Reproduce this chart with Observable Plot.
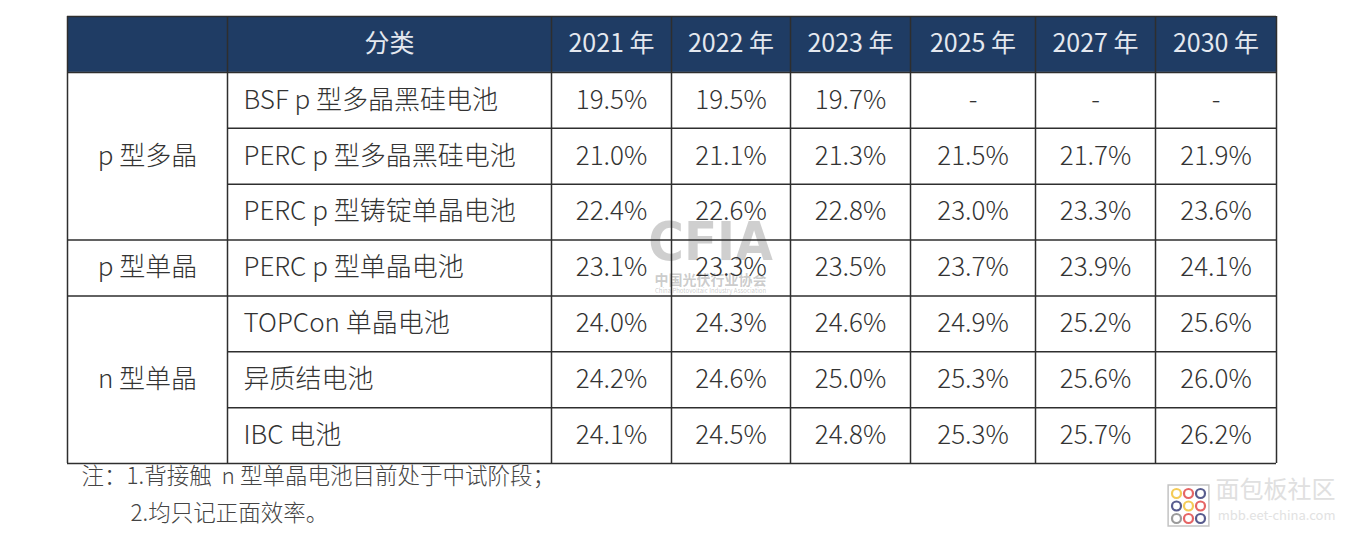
<!DOCTYPE html>
<html>
<head>
<meta charset="utf-8">
<script src="https://cdn.jsdelivr.net/npm/d3@7"></script>
<script src="https://cdn.jsdelivr.net/npm/@observablehq/plot@0.6"></script>
<style>
  html, body { margin: 0; padding: 0; background: #ffffff; }
  #chart svg { display: block; }
</style>
</head>
<body>
<div id="chart"></div>
<script>
// ---- data ----
const headerLabel = "分类";
const years = ["2021 年", "2022 年", "2023 年", "2025 年", "2027 年", "2030 年"];
const groups = ["p 型多晶", "p 型单晶", "n 型单晶"];
const groupSizes = [3, 1, 3];
const cellTypes = [
  "BSF p 型多晶黑硅电池",
  "PERC p 型多晶黑硅电池",
  "PERC p 型铸锭单晶电池",
  "PERC p 型单晶电池",
  "TOPCon 单晶电池",
  "异质结电池",
  "IBC 电池"
];
const eff2021 = [19.5, 21.0, 22.4, 23.1, 24.0, 24.2, 24.1];
const eff2022 = [19.5, 21.1, 22.6, 23.3, 24.3, 24.6, 24.5];
const eff2023 = [19.7, 21.3, 22.8, 23.5, 24.6, 25.0, 24.8];
const eff2025 = [null, 21.5, 23.0, 23.7, 24.9, 25.3, 25.3];
const eff2027 = [null, 21.7, 23.3, 23.9, 25.2, 25.6, 25.7];
const eff2030 = [null, 21.9, 23.6, 24.1, 25.6, 26.0, 26.2];
const notes = ["注：1.背接触  n 型单晶电池目前处于中试阶段；", "2.均只记正面效率。"];

// ---- layout ----
const series = [eff2021, eff2022, eff2023, eff2025, eff2027, eff2030];
const colWidths = [160, 324, 120, 119, 120, 125, 120, 121];
const edges = [0];
colWidths.forEach(w => edges.push(edges[edges.length - 1] + w));
const total = edges[edges.length - 1];
const nRows = cellTypes.length + 1;
const mid = c => (edges[c] + edges[c + 1]) / 2;

const FONT = "'Noto Sans CJK SC', 'Noto Sans', sans-serif";
const LINE = "#2e2e2e";
const TXT = "#333333";
const WM = "#8c8c8c";

const headerCells = [{label: headerLabel, col: 1}].concat(years.map((y, j) => ({label: y, col: j + 2})));
const valueCells = [];
series.forEach((s, j) => s.forEach((v, i) => valueCells.push({
  label: v == null ? "-" : v.toFixed(1) + "%", col: j + 2, row: i + 1
})));
const groupCells = [];
let start = 1;
groups.forEach((g, k) => {
  groupCells.push({label: g, y1: start, y2: start + groupSizes[k]});
  start += groupSizes[k];
});
const groupBounds = new Set(groupCells.map(g => g.y2));
const hLines = d3.range(0, nRows + 1).map(r => ({
  y: r, x1: (r <= 1 || groupBounds.has(r)) ? 0 : edges[1], x2: total
}));

// brand icon rings (decoration only)
const ringColors = ["#f2c23a", "#e04a4a", "#3b3f7a", "#3b3f7a", "#f2c23a", "#e04a4a", "#8a8a8a", "#e04a4a", "#3b3f7a"];
const ringMarks = ringColors.map((c, i) => Plot.dot([0], {
  frameAnchor: "bottom-right", dx: -100 + (i % 3) * 12, dy: 30 + Math.floor(i / 3) * 12.5,
  r: 4.5, fill: "none", stroke: c, strokeWidth: 2.2, strokeOpacity: 0.85
}));

const chart = Plot.plot({
  width: 1346,
  height: 536,
  marginLeft: 67,
  marginRight: 70,
  marginTop: 16,
  marginBottom: 73,
  x: {domain: [0, total], axis: null},
  y: {domain: [0, nRows], reverse: true, axis: null},
  style: {fontFamily: FONT, background: "#ffffff"},
  marks: [
    Plot.rect([0], {x1: 0, x2: total, y1: 0, y2: 1, fill: "#1f3c64"}),
    // CFIA watermark
    Plot.text(["CFIA"], {frameAnchor: "top-left", dx: 643, dy: 205, fontSize: 54, fontWeight: 700,
      fill: WM, fillOpacity: 0.42, fontFamily: "'Liberation Sans Narrow', 'DejaVu Sans Condensed', sans-serif", textAnchor: "middle"}),
    Plot.text(["中国光伏行业协会"], {frameAnchor: "top-left", dx: 643, dy: 259, fontSize: 14, fontWeight: 700,
      fill: WM, fillOpacity: 0.45, textAnchor: "middle"}),
    Plot.text(["China Photovoltaic Industry Association"], {frameAnchor: "top-left", dx: 643, dy: 272, fontSize: 6,
      fill: WM, fillOpacity: 0.45, textAnchor: "middle"}),
    // header text
    Plot.text(headerCells, {x: d => mid(d.col), y: 0.5, text: "label", fill: "#e4e8ef", fontSize: 25}),
    // group labels
    Plot.text(groupCells, {x: mid(0), y: d => (d.y1 + d.y2) / 2, text: "label", fill: TXT, fontSize: 26, fontWeight: 300}),
    // cell type labels
    Plot.text(cellTypes, {x: edges[1] + 16, y: (d, i) => i + 1.5, text: d => d, textAnchor: "start", fill: TXT, fontSize: 26, fontWeight: 300}),
    // values
    Plot.text(valueCells, {x: d => mid(d.col), y: d => d.row + 0.5, text: "label", fill: TXT, fontSize: 26, fontWeight: 300}),
    // grid
    Plot.ruleY(hLines, {y: "y", x1: "x1", x2: "x2", stroke: LINE, strokeWidth: 1.5}),
    Plot.ruleX(edges, {x: d => d, y1: 0, y2: nRows, stroke: LINE, strokeWidth: 1.5}),
    // notes
    Plot.text([notes[0]], {frameAnchor: "bottom-left", dx: 14, dy: 20, textAnchor: "start", fill: "#444", fontSize: 22.5, fontWeight: 300}),
    Plot.text([notes[1]], {frameAnchor: "bottom-left", dx: 63, dy: 57, textAnchor: "start", fill: "#444", fontSize: 22.5, fontWeight: 300}),
    // bottom-right brand watermark
    Plot.dot([0], {frameAnchor: "bottom-right", dx: -88, dy: 42, symbol: "square", r: 23, fill: "#ffffff", stroke: "#c4c4c4", strokeWidth: 1.5}),
    ...ringMarks,
    Plot.text(["面包板社区"], {frameAnchor: "bottom-right", dx: 59, dy: 34, textAnchor: "end", fill: "#e0e0e0", fontSize: 24}),
    Plot.text(["mbb.eet-china.com"], {frameAnchor: "bottom-right", dx: 59, dy: 56, textAnchor: "end", fill: "#e2e2e2", fontSize: 13})
  ]
});
document.getElementById("chart").appendChild(chart);
</script>
</body>
</html>
